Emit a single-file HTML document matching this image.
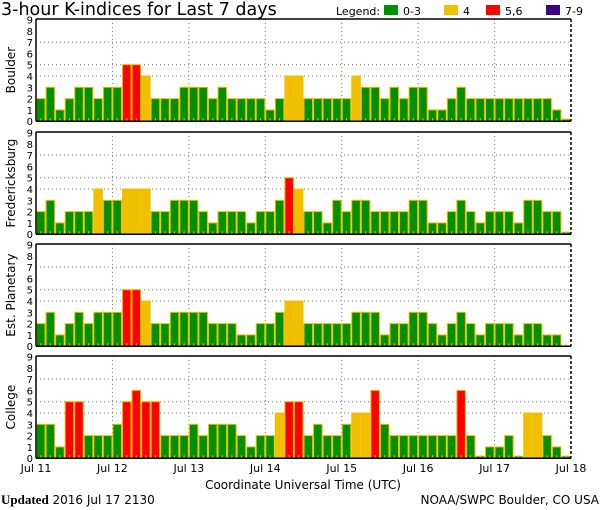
<!DOCTYPE html>
<html><head><meta charset="utf-8"><style>
body{margin:0;background:#fff;}
svg{display:block;font-family:"DejaVu Sans","Liberation Sans",sans-serif;}
</style></head><body>
<svg id="chart" width="600" height="510" viewBox="0 0 600 510">
<text x="1" y="15" font-size="17.5" fill="#000">3-hour K-indices for Last 7 days</text>
<g font-size="11">
<text x="336" y="15">Legend:</text>
<rect x="384" y="5" width="14" height="10" fill="#009000"/>
<text x="403" y="15">0-3</text>
<rect x="444" y="5" width="14" height="10" fill="#f0c000"/>
<text x="463" y="15">4</text>
<rect x="486" y="5" width="14" height="10" fill="#ff0000"/>
<text x="505" y="15">5,6</text>
<rect x="546" y="5" width="14" height="10" fill="#400080"/>
<text x="565" y="15">7-9</text>
</g>
<text x="303" y="489" font-size="12" text-anchor="middle">Coordinate Universal Time (UTC)</text>
<text x="1" y="504" font-size="12"><tspan font-family="Liberation Serif,serif" font-weight="bold" font-size="13">Updated</tspan> 2016 Jul 17 2130</text>
<text x="599" y="504" font-size="12" text-anchor="end">NOAA/SWPC Boulder, CO USA</text>
</svg>
<script>
const stations = ["Boulder","Fredericksburg","Est. Planetary","College"];
const boulder = [2,3,1,2,3,3,2,3,3,5,5,4,2,2,2,3,3,3,2,3,2,2,2,2,1,2,4,4, 2,2,2,2,2,4,3,3,2,3,2,3,3,1,1,2,3,2,2,2,2,2,2,2,2,2,1,0];
const fredericksburg = [2,3,1,2,2,2,4,3,3,4,4,4,2,2,3,3,3,2,1,2,2,2,1,2,2,3,5,4, 2,2,1,3,2,3,3,2,2,2,2,3,3,1,1,2,3,2,1,2,2,2,1,3,3,2,2,0];
const planetary = [2,3,1,2,3,2,3,3,3,5,5,4,2,2,3,3,3,3,2,2,2,1,1,2,2,3,4,4, 2,2,2,2,2,3,3,3,1,2,2,3,3,2,1,2,3,2,1,2,2,2,1,2,2,1,1,null];
const college = [3,3,1,5,5,2,2,2,3,5,6,5,5,2,2,2,3,2,3,3,3,2,1,2,2,4,5,5, 2,3,2,2,3,4,4,6,3,2,2,2,2,2,2,2,6,2,0,1,1,2,0,4,4,2,1,0];
const dayLabels = ["Jul 11","Jul 12","Jul 13","Jul 14","Jul 15","Jul 16","Jul 17","Jul 18"];
const yTicks = [0,1,2,3,4,5,6,7,8,9];
const gridLevels = [4,5,7];

const series=[boulder,fredericksburg,planetary,college];
const svg=document.getElementById('chart');
const NS='http://www.w3.org/2000/svg';
const X0=36,X1=571,N=56,UNIT=11.3;
const panelTops=[19,132,244,356];
const xs=i=>X0+(X1-X0)*i/N;
const dayX=d=>X0+(X1-X0)*d/7;
function mk(tag,attrs,parent){const e=document.createElementNS(NS,tag);for(const k in attrs)e.setAttribute(k,attrs[k]);(parent||svg).appendChild(e);return e;}
function color(v){return v>=7?'#400080':v>=5?'#ff0000':v>=4?'#f0c000':'#009000';}

series.forEach((data,p)=>{
  const top=panelTops[p],base=top+9*UNIT+0.5;
  const ys=v=>base-v*UNIT;
  const g=mk('g',{});
  
  
  gridLevels.forEach(l=>{const ln=mk('line',{x1:X0,x2:X1,y1:ys(l),y2:ys(l),stroke:'#777','stroke-dasharray':'1,3'},g);
    });
  for(let d=1;d<7;d++){const ln=mk('line',{x1:dayX(d),x2:dayX(d),y1:top,y2:base,stroke:'#777','stroke-dasharray':'1,3'},g);
    }
  data.forEach((v,i)=>{
    if(v===null)return;
    const x=xs(i),w=xs(i+1)-x;
    const h=v===0?2:v*UNIT;
    const r=mk('rect',{x:x+0.5,y:base-h,width:w-1,height:h,fill:v===0?'#009000':color(v),stroke:'#f0c000','stroke-width':1},g);
    
    
  });
  for(let i=0;i<N;i++){const x=xs(i)+(X1-X0)/N/2;const t=mk('line',{x1:x,x2:x,y1:base-3,y2:base,stroke:'#f0c000'},g);
    }
  mk('line',{x1:X0,x2:X1,y1:top,y2:top,stroke:'#000','stroke-width':1.5},g);
  mk('line',{x1:X0,x2:X0,y1:top,y2:base,stroke:'#000','stroke-width':1.5},g);
  mk('line',{x1:X0,x2:X1,y1:base,y2:base,stroke:'#000','stroke-width':1.5},g);
  mk('line',{x1:X1,x2:X1,y1:top,y2:base,stroke:'#000','stroke-width':1.5,'stroke-dasharray':'3,2'},g);
  yTicks.forEach(t=>{const tx=mk('text',{x:33,y:ys(t)+4,'font-size':10,'text-anchor':'end'},g);tx.textContent=t;
    });
  const lab=mk('text',{x:0,y:0,'font-size':12,'text-anchor':'middle',transform:`translate(15,${(top+base)/2}) rotate(-90)`},g);
  lab.textContent=stations[p];
  
  
});
dayLabels.forEach((d,i)=>{const t=mk('text',{x:dayX(i),y:472,'font-size':11,'text-anchor':'middle'});t.textContent=d;
  
  });
</script>
</body></html>
